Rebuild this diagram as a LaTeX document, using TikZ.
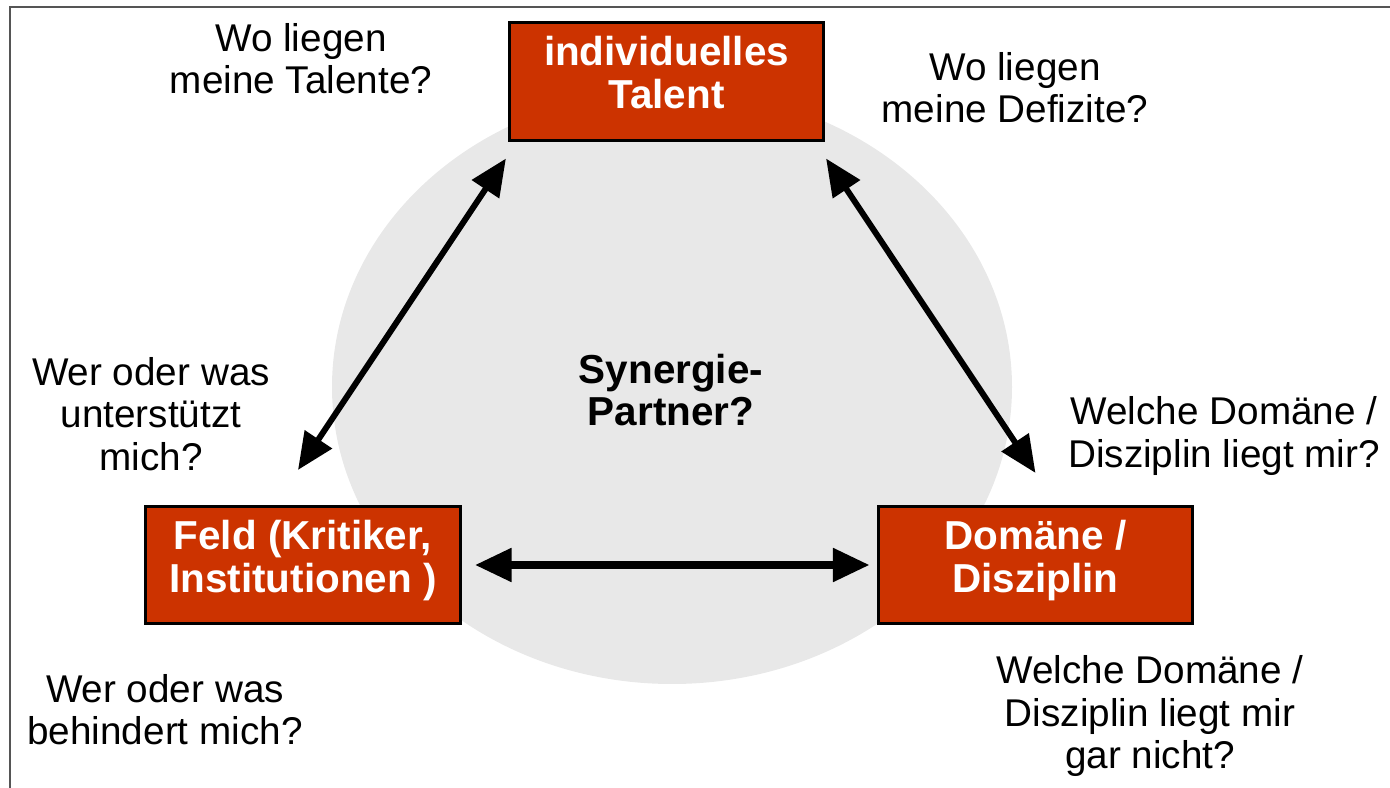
\documentclass[tikz,border=0pt]{standalone}
\usepackage{fontspec}
\setmainfont{Liberation Sans}
\usetikzlibrary{arrows.meta}
\definecolor{kastenrot}{HTML}{CC3300}
\definecolor{hgrau}{HTML}{E8E8E8}
\definecolor{rahmen}{HTML}{555555}
\tikzset{
  kasten/.style={draw=black, line width=0.85pt, fill=kastenrot, text=white,
    font=\fontsize{11.5}{12.2}\selectfont\bfseries, align=center, text depth=5pt,
    minimum width=3.14cm, minimum height=1.17cm, inner sep=0pt},
  frage/.style={font=\fontsize{11}{12}\selectfont, align=center, inner sep=0pt},
  pfeil/.style={{Triangle[length=10.5pt 0,width=9pt 0]}-{Triangle[length=10.5pt 0,width=9pt 0]}, line width=1.7pt},
}
\begin{document}
\begin{tikzpicture}[x=0.01cm,y=-0.01cm]
\useasboundingbox (0,0) rectangle (1390,788);
\fill[hgrau] (672,387) ellipse [x radius=340, y radius=297];
\draw[rahmen, line width=0.85pt] (10,788) -- (10,7) -- (1390,7);
% boxes
\node[kasten] (talent) at (666.5,81.5) {individuelles\\Talent};
\node[kasten] (feld) at (303,565) {Feld (Kritiker,\\Institutionen )};
\node[kasten] (domaene) at (1035.5,565) {Domäne /\\Disziplin};
% questions
\node[frage] (talente) at (301,59) {Wo liegen\\meine Talente?};
\node[frage] (defizite) at (1015,88) {Wo liegen\\meine Defizite?};
\node[frage] (unterstuetzt) at (151,414) {Wer oder was\\unterstützt\\mich?};
\node[frage, font=\fontsize{11.5}{12}\selectfont\bfseries] (synergie) at (671,390) {Synergie-\\Partner?};
\node[frage] (liegtmir) at (1224,436) {Welche Domäne /\\Disziplin liegt mir?};
\node[frage] (behindert) at (165,710) {Wer oder was\\behindert mich?};
\node[frage] (nicht) at (1150,716) {Welche Domäne /\\Disziplin liegt mir\\gar nicht?};
% arrows
\draw[pfeil] ([shift={(-2,17)}]talent.south west) -- ([shift={(-5,-35)}]feld.north);
\draw[pfeil] ([shift={(1,17)}]talent.south east) -- ([shift={(0,-32)}]domaene.north);
\draw[pfeil, line width=2.5pt] ([shift={(13,0)}]feld.east) -- ([shift={(-7,0)}]domaene.west);
\end{tikzpicture}
\end{document}
